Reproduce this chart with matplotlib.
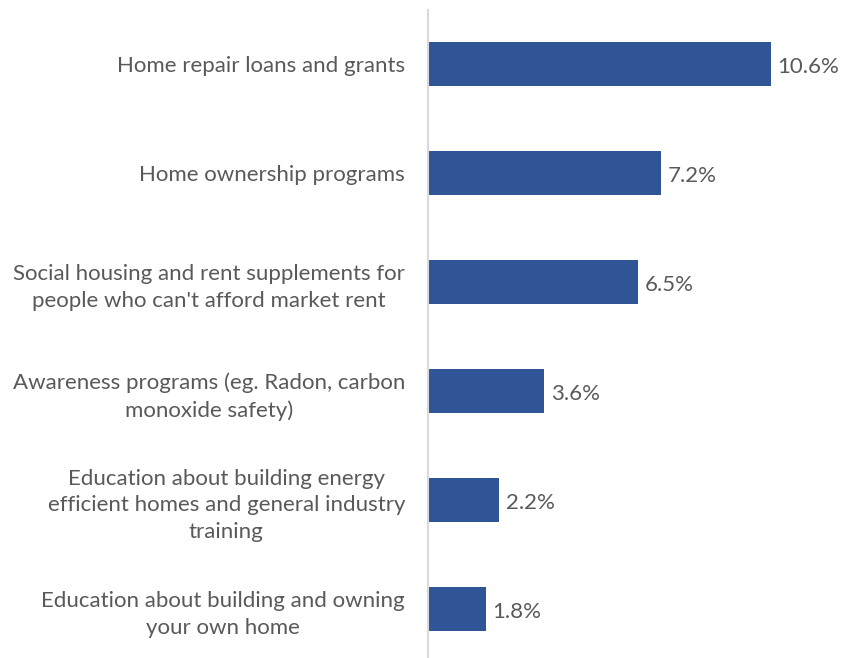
import matplotlib.pyplot as plt

categories = [
    "Home repair loans and grants",
    "Home ownership programs",
    "Social housing and rent supplements for\npeople who can't afford market rent",
    "Awareness programs (eg. Radon, carbon\nmonoxide safety)",
    "Education about building energy\nefficient homes and general industry\ntraining",
    "Education about building and owning\nyour own home",
]
values = [10.6, 7.2, 6.5, 3.6, 2.2, 1.8]
value_labels = ["10.6%", "7.2%", "6.5%", "3.6%", "2.2%", "1.8%"]

plt.rcParams["font.family"] = ["Lato", "DejaVu Sans"]
text_color = "#595959"
bar_color = "#2F5597"

fig = plt.figure(figsize=(8.42, 6.58), dpi=100)
ax = fig.add_axes([428 / 842, 1 - 663.5 / 658, (816 - 428) / 842, 654 / 658])

pos = list(range(len(categories)))
ax.barh(pos, values, height=0.4, color=bar_color)
ax.set_ylim(len(categories) - 0.5, -0.5)
ax.set_xlim(0, 12)

for p, v, lab in zip(pos, values, value_labels):
    ax.text(v + 0.2, p + 0.03, lab, va="center", ha="left", fontsize=16, color=text_color)

ax.set_yticks(pos)
ax.set_yticklabels(categories, fontsize=16, color=text_color, ha="right",
                   multialignment="center", linespacing=1.42)
ax.tick_params(axis="y", length=0, pad=16.5)
ax.set_xticks([])

for s in ["top", "right", "bottom"]:
    ax.spines[s].set_visible(False)
ax.spines["left"].set_color("#D9D9D9")
ax.spines["left"].set_linewidth(1.5)

plt.savefig("out.png", dpi=100)
